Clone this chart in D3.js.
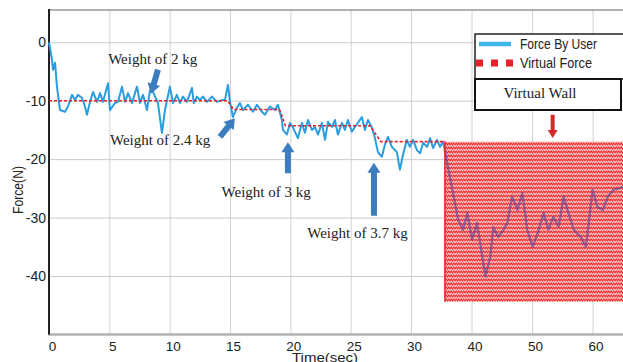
<!DOCTYPE html>
<html>
<head>
<meta charset="utf-8">
<title>Force by user vs virtual force</title>
<script src="https://cdn.jsdelivr.net/npm/d3@7"></script>
<style>
  body { margin: 0; background: #fff; }
  svg { display: block; }
  .sans { font-family: "Liberation Sans Narrow", "Arial Narrow", "Liberation Sans", sans-serif; }
  .serif { font-family: "Liberation Serif", "Times New Roman", serif; }
</style>
</head>
<body>
<svg id="chart" width="623" height="362"></svg>
<script>
// tick labels (the time axis is compressed after 30 s)
var xTicks = [0, 5, 10, 15, 20, 25, 30, 40, 50, 60];
var yTicks = [0, -10, -20, -30, -40];

// force by user
var userT = [0, 0.25, 0.33, 0.5, 0.66, 0.91, 1.33, 1.57, 1.91, 2.15,
  2.40, 2.73, 2.98, 3.15, 3.40, 3.65, 3.98, 4.23, 4.47, 4.89,
  5.05, 5.47, 5.72, 6.05, 6.30, 6.55, 6.88, 7.29, 7.54, 7.79,
  8.12, 8.37, 8.62, 9.03, 9.36, 9.61, 10.02, 10.27, 10.60, 10.85,
  11.10, 11.43, 11.85, 12.0, 12.26, 12.51, 12.76, 13.09, 13.50, 13.92,
  14.33, 14.58, 14.83, 15.0, 15.24, 15.58, 15.82, 16.07, 16.49, 16.90,
  17.23, 17.65, 17.90, 18.31, 18.72, 18.97, 19.30, 19.39, 19.72, 19.97,
  20.22, 20.63, 20.96, 21.21, 21.46, 21.79, 22.04, 22.29, 22.62, 22.87,
  23.12, 23.45, 23.70, 23.94, 24.28, 24.52, 24.77, 25.10, 25.35, 25.60,
  25.93, 26.18, 26.43, 26.76, 27.01, 27.26, 27.59, 27.84, 28.09, 28.42,
  28.83, 29.08, 29.33, 29.66, 29.91, 30.33, 31.0, 31.5, 32.0, 32.65,
  33.15, 33.65, 34.3, 34.8, 35.3, 37.8, 38.6, 39.3, 40.1, 40.9,
  42.3, 43.1, 43.6, 44.4, 45.3, 45.9, 46.7, 47.6, 48.4, 49.2,
  50.1, 51.1, 51.9, 52.7, 53.5, 54.4, 55.2, 56.0, 56.9, 58.0,
  58.9, 60.0, 60.8, 61.7, 62.5, 63.5, 65.2];
var userF = [0, -3, -4.7, -3.5, -7.6, -11.6, -11.9, -11, -9, -9.9,
  -9, -9.5, -11, -12.4, -10.2, -8.5, -10.2, -8.7, -10.2, -7,
  -11.6, -10.4, -10.2, -7.6, -10.2, -8.7, -10.4, -7.6, -10.4, -9,
  -11.6, -8.2, -8.5, -10.4, -15.5, -11.6, -7.6, -10.4, -9, -10.4,
  -9.3, -10.2, -7.8, -10.4, -9.3, -9.9, -9.3, -10.2, -9.3, -10.2,
  -9.9, -9.9, -7.3, -10.2, -12.8, -11.2, -10.4, -11.6, -10.7, -11.9,
  -10.7, -11.9, -12.4, -11, -11.6, -10.7, -13.3, -15, -15.8, -13.8,
  -14.6, -16.4, -13.8, -15.5, -13.3, -15, -14.5, -15.8, -13.8, -16.7,
  -13.6, -14.5, -13.3, -15.8, -13.8, -15, -13.3, -15.3, -14.5, -13.8,
  -12.8, -15, -13.3, -14.6, -16.4, -18.8, -19.6, -17.5, -16.2, -17.9,
  -18.8, -21.8, -19.3, -16.7, -17.9, -16.7, -18.5, -19, -17.2, -17.9,
  -16.4, -18.1, -16.7, -17.9, -17.0, -30.4, -32.1, -29.2, -33.8, -30.9,
  -40.1, -36.7, -31.6, -33.3, -32.1, -30.9, -26.4, -28.7, -25.8, -32.1,
  -35.0, -32.1, -29.2, -32.1, -29.9, -31.6, -26.4, -29.2, -32.1, -33.3,
  -35.0, -25.2, -28.2, -28.7, -26.4, -25.2, -24.7];

// virtual force steps before the wall
var virtualT = [0, 14.8, 15.3, 19.1, 19.6, 26.6, 27.5, 35.6];
var virtualF = [-10, -10, -11.5, -11.5, -14.3, -14.3, -17.0, -17.0];

// virtual wall: time span and force band of the oscillating virtual force
var wallT = [35.6, 70];
var wallF = [-17.0, -44.4];

var W = 623, H = 362;
var svg = d3.select("#chart");

var x = d3.scaleLinear().domain([0, 30, 60]).range([49, 411, 592.6]);
var y = d3.scaleLinear().domain([-50, 5.6]).range([334.5, 9.5]);

var defs = svg.append("defs");
var pat = defs.append("pattern").attr("id", "zig")
  .attr("patternUnits", "userSpaceOnUse").attr("width", 5).attr("height", 4);
pat.append("rect").attr("width", 5).attr("height", 4).attr("fill", "#ee3434");
pat.append("path").attr("d", "M0,3.3 L1.25,0.7 L2.5,3.3 L3.75,0.7 L5,3.3")
  .attr("fill", "none").attr("stroke", "#fff").attr("stroke-width", 0.9)
  .attr("stroke-opacity", 0.85);

defs.append("clipPath").attr("id", "beforeWall").append("rect")
  .attr("x", 0).attr("y", 0).attr("width", x(wallT[0])).attr("height", H);
defs.append("clipPath").attr("id", "inWall").append("rect")
  .attr("x", x(wallT[0])).attr("y", 0).attr("width", W).attr("height", H);

// grid + tick labels
var gx = svg.append("g").attr("class", "sans")
  .attr("transform", "translate(0," + y(-50) + ")")
  .call(d3.axisBottom(x).tickValues(xTicks).tickSize(-(y(-50) - 10)).tickPadding(7)
    .tickFormat(function(d) { return String(d); }));
gx.select(".domain").remove();
gx.selectAll("line").attr("stroke", "#d2d2d2");
gx.selectAll("text").attr("font-size", 13.5).attr("fill", "#222")
  .attr("dx", 3);

var gy = svg.append("g").attr("class", "sans")
  .attr("transform", "translate(" + x(0) + ",0)")
  .call(d3.axisLeft(y).tickValues(yTicks).tickSize(-(W - x(0))).tickPadding(3)
    .tickFormat(function(d) { return String(d); }));
gy.select(".domain").remove();
gy.selectAll("line").attr("stroke", "#cbcbcb");
gy.selectAll("text").attr("font-size", 14).attr("fill", "#222");

// frame
svg.append("line").attr("x1", x(0)).attr("x2", W).attr("y1", 10).attr("y2", 10)
  .attr("stroke", "#666").attr("stroke-width", 1.2);
svg.append("line").attr("x1", x(0) - 1).attr("x2", W).attr("y1", y(-50)).attr("y2", y(-50))
  .attr("stroke", "#b0b0b0").attr("stroke-width", 2.5);
svg.append("line").attr("x1", x(0)).attr("x2", x(0)).attr("y1", 9).attr("y2", y(-50))
  .attr("stroke", "#222").attr("stroke-width", 2);

// force by user (before wall)
var userPts = userT.map(function(t, i) { return [t, userF[i]]; });
var line = d3.line().x(function(d) { return x(d[0]); }).y(function(d) { return y(d[1]); });
svg.append("path").datum(userPts).attr("d", line)
  .attr("clip-path", "url(#beforeWall)")
  .attr("fill", "none").attr("stroke", "#2a9de0").attr("stroke-width", 2)
  .attr("stroke-linejoin", "round");

// virtual force steps
var virtPts = virtualT.map(function(t, i) { return [t, virtualF[i]]; });
svg.append("path").datum(virtPts).attr("d", line)
  .attr("fill", "none").attr("stroke", "#e8202a").attr("stroke-width", 1.6)
  .attr("stroke-dasharray", "3,2");

// virtual wall region
svg.append("rect")
  .attr("x", x(wallT[0])).attr("y", y(wallF[0]))
  .attr("width", x(wallT[1]) - x(wallT[0])).attr("height", y(wallF[1]) - y(wallF[0]))
  .attr("fill", "url(#zig)");
svg.append("line").attr("x1", x(wallT[0])).attr("x2", x(wallT[0]))
  .attr("y1", y(wallF[0])).attr("y2", y(wallF[1]))
  .attr("stroke", "#e8202a").attr("stroke-width", 1.5);

// force by user inside the wall (seen through the red)
svg.append("path").datum(userPts).attr("d", line)
  .attr("clip-path", "url(#inWall)")
  .attr("fill", "none").attr("stroke", "#5a3f96").attr("stroke-width", 2.4)
  .attr("stroke-opacity", 0.6).attr("stroke-linejoin", "round");

// arrows
function arrow(x1, y1, x2, y2, w, hw, hl) {
  var dx = x2 - x1, dy = y2 - y1, L = Math.hypot(dx, dy);
  var ux = dx / L, uy = dy / L, px = -uy, py = ux;
  var bx = x2 - ux * hl, by = y2 - uy * hl;
  var pts = [[x1 + px * w / 2, y1 + py * w / 2], [bx + px * w / 2, by + py * w / 2],
    [bx + px * hw / 2, by + py * hw / 2], [x2, y2], [bx - px * hw / 2, by - py * hw / 2],
    [bx - px * w / 2, by - py * w / 2], [x1 - px * w / 2, y1 - py * w / 2]];
  return "M" + pts.join("L") + "Z";
}
var blueArrows = [
  [9.03, -4.7, 8.45, -8.8],
  [14.17, -16.2, 15.4, -13.0],
  [19.8, -22.4, 19.8, -17.1],
  [26.93, -29.7, 26.93, -20.6]
];
blueArrows.forEach(function(a) {
  svg.append("path").attr("d", arrow(x(a[0]), y(a[1]), x(a[2]), y(a[3]), 6, 13, 10))
    .attr("fill", "#3c7dbf");
});
svg.append("path").attr("d", arrow(x(53.4), y(-12.4), x(53.4), y(-16.4), 4, 10, 8))
  .attr("fill", "#d42a2a");

// annotation labels
var notes = [
  ["Weight of 2 kg", 4.9, -3.7],
  ["Weight of 2.4 kg", 5.05, -17.6],
  ["Weight of 3 kg", 14.3, -26.4],
  ["Weight of 3.7 kg", 21.4, -33.5]
];
notes.forEach(function(n) {
  svg.append("text").attr("class", "serif").attr("x", x(n[1])).attr("y", y(n[2]))
    .attr("font-size", 15).attr("fill", "#222").text(n[0]);
});

// legend
var lg = svg.append("g");
lg.append("rect").attr("x", 475).attr("y", 34).attr("width", 170).attr("height", 45)
  .attr("fill", "#fff").attr("stroke", "#222").attr("stroke-width", 1.5);
lg.append("line").attr("x1", 479).attr("x2", 511).attr("y1", 44).attr("y2", 44)
  .attr("stroke", "#3cb6ea").attr("stroke-width", 4.5);
lg.append("line").attr("x1", 476).attr("x2", 513).attr("y1", 63).attr("y2", 63)
  .attr("stroke", "#e8202a").attr("stroke-width", 7).attr("stroke-dasharray", "7,8");
lg.append("text").attr("class", "sans").attr("x", 520).attr("y", 48.5)
  .attr("font-size", 14.5).attr("fill", "#222")
  .attr("textLength", 77).attr("lengthAdjust", "spacingAndGlyphs").text("Force By User");
lg.append("text").attr("class", "sans").attr("x", 520).attr("y", 67.5)
  .attr("font-size", 14.5).attr("fill", "#222")
  .attr("textLength", 72).attr("lengthAdjust", "spacingAndGlyphs").text("Virtual Force");
lg.append("rect").attr("x", 475).attr("y", 79).attr("width", 146).attr("height", 31)
  .attr("fill", "#fff").attr("stroke", "#111").attr("stroke-width", 2);
lg.append("text").attr("class", "serif").attr("x", 540).attr("y", 97.5)
  .attr("text-anchor", "middle").attr("font-size", 15).attr("fill", "#222")
  .text("Virtual Wall");

// axis titles
svg.append("text").attr("class", "sans").attr("x", 325).attr("y", 361.5)
  .attr("text-anchor", "middle").attr("font-size", 13.5).attr("fill", "#222")
  .attr("textLength", 66).attr("lengthAdjust", "spacingAndGlyphs").text("Time(sec)");
svg.append("text").attr("class", "sans")
  .attr("transform", "translate(23,190) rotate(-90)")
  .attr("text-anchor", "middle").attr("font-size", 14).attr("fill", "#222")
  .attr("textLength", 48).attr("lengthAdjust", "spacingAndGlyphs").text("Force(N)");
</script>
</body>
</html>
